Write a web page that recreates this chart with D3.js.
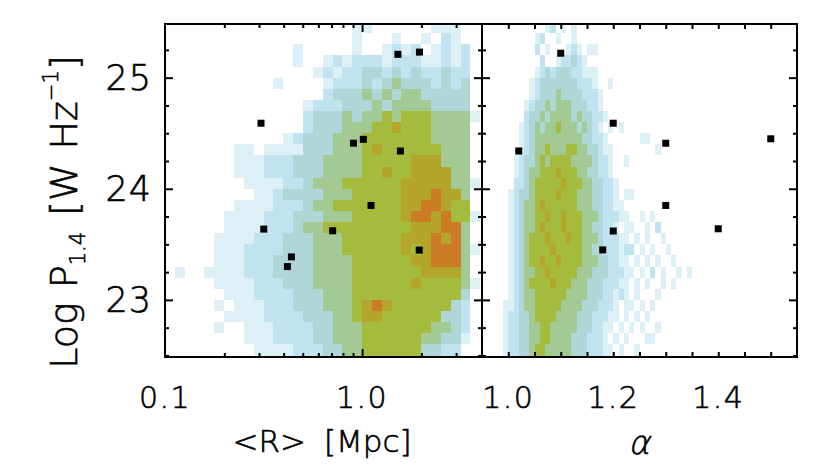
<!DOCTYPE html>
<html>
<head>
<meta charset="utf-8">
<script src="https://cdn.jsdelivr.net/npm/d3@7"></script>
<style>
  body { margin: 0; background: #fff; }
  text { font-family: "DejaVu Sans ExtraLight", "DejaVu Sans", sans-serif; font-weight: 200; fill: #000; stroke: #000; stroke-width: 0.6px; }
</style>
</head>
<body>
<svg id="chart" width="830" height="475"></svg>
<script>
// density grids: 0 = empty ... 7 = densest (red)
// rows go from Log P = 25.5 downward in steps of 0.1
const pBinTop = 25.5, pBinStep = 0.1;
// left panel columns: log10 <R> from -1 in steps of 0.05 dex
const rBinStart = -1.0, rBinStep = 0.05;
const densityR = [
  "00000000000000000001100000011100",
  "00000000000000000001000100102100",
  "00000000000001000001001212012120",
  "00000000000001001212221222112120",
  "00000000000000012122332323223220",
  "00000000000100001222323433323230",
  "00000000000000002333434344333330",
  "00000000000000122233343444433330",
  "00000000000000233343445455544441",
  "00000000000000233344455655544440",
  "00000000000012333444555555544440",
  "00000001101111333444565555554440",
  "00000001112223334444555556664440",
  "00000001112223334444556556666440",
  "00000000111122344455555566666441",
  "00000000011233334445555566676640",
  "00000001111222344555555566776550",
  "00000011112223334445555567767551",
  "00000011112223445555555556667740",
  "00000111122233344455555566676740",
  "00000111222233344455555565677741",
  "00000111222333344445555556677740",
  "01001111222333344445555555666640",
  "00000111122233344445555556555541",
  "00000011122223334445555555555530",
  "00000101112223334445676555555320",
  "00000011112222333445665555553320",
  "00000100111222233444555555544320",
  "00000000111222233444555555443310",
  "00000000011112223344555555332200"
];
// right panel columns: alpha from 0.95 in steps of 0.01
const alphaBinStart = 0.95, alphaBinStep = 0.01;
const densityAlpha = [
  "000000000000120101",
  "000000000012001001",
  "0000000000201000121011",
  "00000000000200122321",
  "0000000000123233322111",
  "0000000001233333332221001",
  "00000000012333433332221",
  "00000000123343444333221",
  "000000002334344443433221",
  "000000012343445444343210101",
  "00000001234444444443322100000011",
  "0000000123445444554433211000000001",
  "0000001233454555544443221001",
  "0000001234455565554433221",
  "00000022345555565554433221",
  "00000123345555655544433221011",
  "000001234456555555444332211",
  "000001234455655655544432221100101",
  "0000012344565556555443322101100102",
  "00000123455565556554443222110101001",
  "000001234555565555544332221220101001",
  "0000012345565565555444332211010101001",
  "0000012344556555554443332221101020100101",
  "0000012345555655544433322211010100101",
  "0000012344555555444433322121010001",
  "000011234455555444433322210110101",
  "00001223345555444433322211010101",
  "0000122334455444443332211010101001",
  "000012233445544443332221010100011",
  "000012233455444443332221101001"
];
const levelColors = ["#ffffff", "#ddf0f6", "#c0e3ef", "#b0d7d8", "#a3c995", "#a4bb3e", "#b4a62a", "#cc7c26"];

// individual objects (black squares)
const sampleR  = [1.52, 1.955, 0.307, 0.904, 1.015, 1.565, 1.11, 0.317, 0.709, 1.95, 0.438, 0.418];
const sampleRP = [25.21, 25.23, 24.59, 24.41, 24.445, 24.34, 23.85, 23.637, 23.622, 23.448, 23.387, 23.30];
const sampleAlpha  = [1.10, 1.20, 1.30, 1.02, 1.50, 1.30, 1.20, 1.18, 1.40];
const sampleAlphaP = [25.22, 24.59, 24.41, 24.34, 24.45, 23.85, 23.62, 23.45, 23.64];

const pTicks = [23, 24, 25];
const pMinor = [22.5, 22.75, 23.25, 23.5, 23.75, 24.25, 24.5, 24.75, 25.25];
const rLabels = [0.1, 1.0];
const rMinor = [0.2, 0.3, 0.4, 0.5, 0.6, 0.7, 0.8, 0.9, 2, 3];
const alphaLabels = [1.0, 1.2, 1.4];
const alphaTicks = [1.0, 1.05, 1.1, 1.15, 1.2, 1.25, 1.3, 1.35, 1.4, 1.45, 1.5];

const svg = d3.select("#chart");
const plotTop = 24, plotBottom = 357;
const y = d3.scaleLinear().domain([22.486, 25.483]).range([plotBottom, plotTop]);
const xR = d3.scaleLog().domain([0.1, 4.06]).range([165, 482]);
const xA = d3.scaleLinear().domain([0.95, 1.55]).range([482, 797]);

const defs = svg.append("defs");
function clipFor(id, x0, x1) {
  defs.append("clipPath").attr("id", id)
    .append("rect").attr("x", x0).attr("y", plotTop).attr("width", x1 - x0).attr("height", plotBottom - plotTop);
}
clipFor("clipR", 165, 482);
clipFor("clipA", 482, 797);

function drawDensity(clipId, rows, colEdge) {
  const cells = [];
  rows.forEach((row, i) => {
    row.split("").forEach((c, j) => { if (+c > 0) cells.push({ i: i, j: j, v: +c }); });
  });
  const yDom = y.domain();
  svg.append("g").attr("clip-path", `url(#${clipId})`)
    .selectAll("rect").data(cells).join("rect")
    .attr("x", d => colEdge(d.j))
    .attr("width", d => colEdge(d.j + 1) - colEdge(d.j))
    .attr("y", d => y(pBinTop - d.i * pBinStep))
    .attr("height", d => {
      const lo = d.i === rows.length - 1 ? yDom[0] : pBinTop - (d.i + 1) * pBinStep;
      return y(lo) - y(pBinTop - d.i * pBinStep);
    })
    .attr("fill", d => levelColors[d.v])
    .attr("shape-rendering", "crispEdges");
}
drawDensity("clipR", densityR, j => xR(Math.pow(10, rBinStart + j * rBinStep)));
drawDensity("clipA", densityAlpha, j => xA(alphaBinStart + j * alphaBinStep));

// black squares
const sq = 7;
svg.append("g").selectAll("rect").data(sampleR).join("rect")
  .attr("x", (d, i) => xR(d) - sq / 2).attr("y", (d, i) => y(sampleRP[i]) - sq / 2)
  .attr("width", sq).attr("height", sq).attr("fill", "#000");
svg.append("g").selectAll("rect").data(sampleAlpha).join("rect")
  .attr("x", (d, i) => xA(d) - sq / 2).attr("y", (d, i) => y(sampleAlphaP[i]) - sq / 2)
  .attr("width", sq).attr("height", sq).attr("fill", "#000");

// ticks (all pointing inward)
function ticks(axis, transform) {
  svg.append("g").attr("transform", transform)
    .call(axis.tickSizeOuter(0).tickFormat(""))
    .call(g => g.select(".domain").remove())
    .call(g => g.selectAll("line").attr("stroke", "#000").attr("stroke-width", 2));
}
[[165, d3.axisLeft], [482, d3.axisRight], [482, d3.axisLeft], [797, d3.axisRight]].forEach(([xp, ax]) => {
  ticks(ax(y).tickValues(pTicks).tickSize(-8), `translate(${xp},0)`);
  ticks(ax(y).tickValues(pMinor).tickSize(-4), `translate(${xp},0)`);
});
[[plotBottom, d3.axisBottom], [plotTop, d3.axisTop]].forEach(([yp, ax]) => {
  ticks(ax(xR).tickValues([1]).tickSize(-8), `translate(0,${yp})`);
  ticks(ax(xR).tickValues(rMinor).tickSize(-4), `translate(0,${yp})`);
  ticks(ax(xA).tickValues(alphaTicks).tickSize(-5), `translate(0,${yp})`);
});

// frames
[[165, 482], [482, 797]].forEach(([x0, x1]) => {
  svg.append("rect").attr("x", x0).attr("y", plotTop).attr("width", x1 - x0).attr("height", plotBottom - plotTop)
    .attr("fill", "none").attr("stroke", "#000").attr("stroke-width", 2);
});

// tick labels
svg.append("g").selectAll("text").data(pTicks).join("text")
  .attr("x", 152).attr("y", d => y(d)).attr("dy", "0.36em")
  .attr("text-anchor", "end").attr("font-size", 35).attr("letter-spacing", 1).text(d => d);
svg.append("g").selectAll("text").data(rLabels).join("text")
  .attr("x", d => xR(d)).attr("y", 408).attr("text-anchor", "middle").attr("font-size", 30)
  .attr("letter-spacing", 1.5).text(d => d.toFixed(1));
svg.append("g").selectAll("text").data(alphaLabels).join("text")
  .attr("x", d => xA(d)).attr("y", 408).attr("text-anchor", "middle").attr("font-size", 30)
  .attr("letter-spacing", 1.5).text(d => d.toFixed(1));

// axis titles
const xt = svg.append("text").attr("x", 322).attr("y", 452).attr("text-anchor", "middle").attr("font-size", 31);
xt.append("tspan").text("<R>");
xt.append("tspan").attr("dx", 18).text("[Mpc]");
svg.append("text").attr("transform", "translate(639,454) skewX(-14)")
  .attr("text-anchor", "middle").attr("font-size", 33).text("α");

const yt = svg.append("text").attr("transform", "translate(77,212) rotate(-90)")
  .attr("text-anchor", "middle").attr("font-size", 38);
yt.append("tspan").text("Log");
yt.append("tspan").attr("dx", 14).text("P");
yt.append("tspan").attr("font-size", 21).attr("dy", 8).text("1.4");
yt.append("tspan").attr("dy", -8).attr("dx", 16).text("[W");
yt.append("tspan").attr("dx", 14).text("Hz");
yt.append("tspan").attr("font-size", 21).attr("dy", -19).text("−1");
yt.append("tspan").attr("dy", 19).text("]");
</script>
</body>
</html>
